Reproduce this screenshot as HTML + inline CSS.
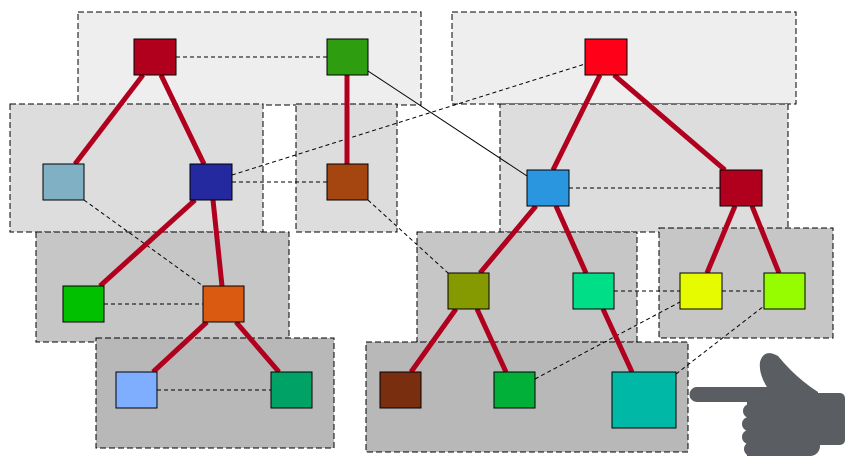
<!DOCTYPE html>
<html><head><meta charset="utf-8"><style>html,body{margin:0;padding:0;background:#fff}svg{display:block}</style></head>
<body>
<svg width="855" height="466" viewBox="0 0 855 466" xmlns="http://www.w3.org/2000/svg">
<g stroke="#000" stroke-width="1" stroke-dasharray="6,3">
<rect x="78" y="12" width="343" height="93" fill="#eeeeee"/>
<rect x="452" y="12" width="344" height="92" fill="#eeeeee"/>
<rect x="10" y="104" width="253" height="128" fill="#dddddd"/>
<rect x="296" y="104" width="101" height="128" fill="#dddddd"/>
<rect x="500" y="104" width="288" height="128" fill="#dddddd"/>
<rect x="36" y="232" width="253" height="110" fill="#c6c6c6"/>
<rect x="417" y="232" width="220" height="110" fill="#c6c6c6"/>
<rect x="659" y="228" width="174" height="110" fill="#c6c6c6"/>
<rect x="96" y="338" width="238" height="110" fill="#b8b8b8"/>
<rect x="366" y="342" width="322" height="110" fill="#b8b8b8"/>
</g>
<g stroke="#000" stroke-width="1" stroke-dasharray="4,3" fill="none">
<line x1="176" y1="57" x2="327" y2="57"/>
<line x1="232" y1="182" x2="327" y2="182"/>
<line x1="232" y1="175" x2="585" y2="64"/>
<line x1="84" y1="200" x2="203" y2="286"/>
<line x1="368" y1="200" x2="448" y2="273"/>
<line x1="104" y1="304" x2="203" y2="304"/>
<line x1="157" y1="390" x2="271" y2="390"/>
<line x1="569" y1="188" x2="720" y2="188"/>
<line x1="614" y1="291" x2="680" y2="291"/>
<line x1="722" y1="291" x2="764" y2="291"/>
<line x1="535" y1="379" x2="680" y2="302"/>
<line x1="676" y1="374" x2="764" y2="306"/>
</g>
<line x1="368" y1="71" x2="527" y2="176" stroke="#000" stroke-width="1"/>
<g stroke="#b0001e" stroke-width="5">
<line x1="143" y1="75" x2="75" y2="164"/>
<line x1="161" y1="75" x2="204" y2="164"/>
<line x1="347" y1="75" x2="347" y2="164"/>
<line x1="195" y1="200" x2="100" y2="286"/>
<line x1="213" y1="200" x2="222" y2="286"/>
<line x1="207" y1="322" x2="153" y2="372"/>
<line x1="236" y1="322" x2="279" y2="372"/>
<line x1="600" y1="75" x2="553" y2="170"/>
<line x1="614" y1="75" x2="725" y2="170"/>
<line x1="536" y1="206" x2="480" y2="273"/>
<line x1="556" y1="206" x2="586" y2="273"/>
<line x1="735" y1="206" x2="707" y2="273"/>
<line x1="752" y1="206" x2="779" y2="273"/>
<line x1="456" y1="309" x2="411" y2="372"/>
<line x1="477" y1="309" x2="506" y2="372"/>
<line x1="603" y1="309" x2="632" y2="372"/>
</g>
<g stroke="#000" stroke-width="1">
<rect x="134" y="39" width="42" height="36" fill="#b0001e"/>
<rect x="327" y="39" width="41" height="36" fill="#2e9e10"/>
<rect x="585" y="39" width="42" height="36" fill="#ff0019"/>
<rect x="43" y="164" width="41" height="36" fill="#7fb0c3"/>
<rect x="190" y="164" width="42" height="36" fill="#2529a0"/>
<rect x="327" y="164" width="41" height="36" fill="#a54510"/>
<rect x="527" y="170" width="42" height="36" fill="#2a96e0"/>
<rect x="720" y="170" width="42" height="36" fill="#b0001e"/>
<rect x="63" y="286" width="41" height="36" fill="#00c000"/>
<rect x="203" y="286" width="41" height="36" fill="#da5a12"/>
<rect x="448" y="273" width="41" height="36" fill="#849a00"/>
<rect x="573" y="273" width="41" height="36" fill="#00de88"/>
<rect x="680" y="273" width="42" height="36" fill="#e6fa00"/>
<rect x="764" y="273" width="41" height="36" fill="#96fc00"/>
<rect x="116" y="372" width="41" height="36" fill="#80aeff"/>
<rect x="271" y="372" width="41" height="36" fill="#00a266"/>
<rect x="380" y="372" width="41" height="36" fill="#7a2e10"/>
<rect x="494" y="372" width="41" height="36" fill="#00b038"/>
<rect x="612" y="372" width="64" height="56" fill="#00b8a6"/>
</g>
<g fill="#5a5d61">
<path d="M697 387 L770 387 L770 402 L697 402 A7.5 7.5 0 0 1 697 387 Z"/>
<path d="M760 362 Q764 348 778 356 Q796 378 818 392 L818 402 L775 398 Q758 378 760 362 Z"/>
<rect x="790" y="393" width="55" height="52" rx="5"/>
<rect x="755" y="390" width="65" height="66" rx="10"/>
<circle cx="750" cy="411" r="7"/>
<circle cx="749" cy="424" r="7"/>
<circle cx="749" cy="437" r="7"/>
<circle cx="751" cy="449" r="7"/>
<rect x="747" y="402" width="25" height="54"/>
</g>
</svg>
</body></html>
